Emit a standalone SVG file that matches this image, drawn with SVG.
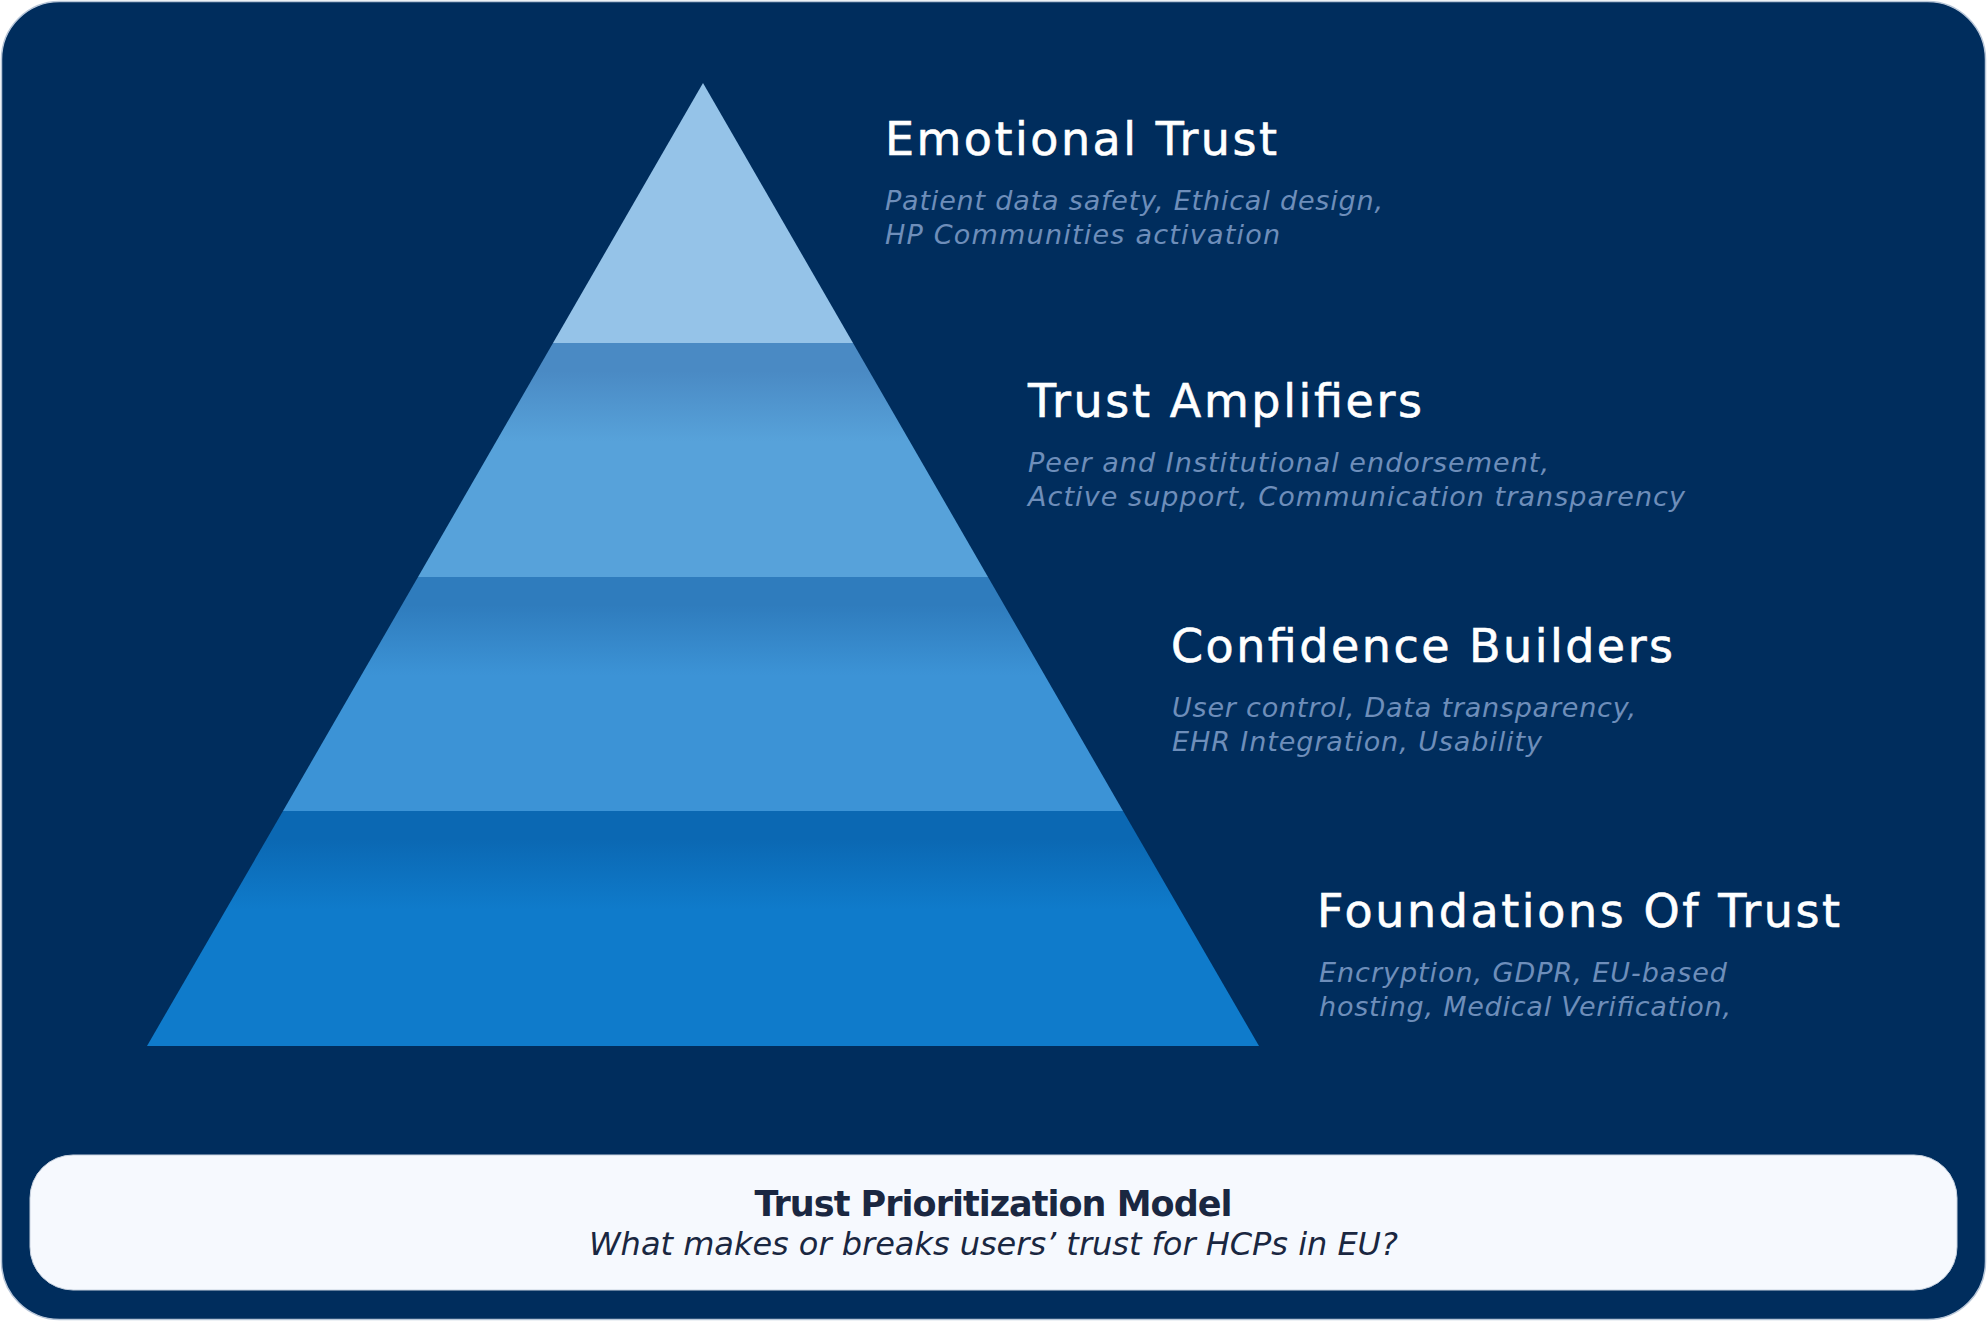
<svg xmlns="http://www.w3.org/2000/svg" width="1987" height="1321" viewBox="0 0 1987 1321">
  <defs>
    <linearGradient id="g2" x1="0" y1="0" x2="0" y2="1">
      <stop offset="0" stop-color="#4A8AC4"/>
      <stop offset="0.12" stop-color="#4A8AC4"/>
      <stop offset="0.42" stop-color="#57A2DA"/>
      <stop offset="1" stop-color="#57A2DA"/>
    </linearGradient>
    <linearGradient id="g3" x1="0" y1="0" x2="0" y2="1">
      <stop offset="0" stop-color="#2F7CBD"/>
      <stop offset="0.12" stop-color="#2F7CBD"/>
      <stop offset="0.42" stop-color="#3C93D6"/>
      <stop offset="1" stop-color="#3C93D6"/>
    </linearGradient>
    <linearGradient id="g4" x1="0" y1="0" x2="0" y2="1">
      <stop offset="0" stop-color="#0B68B3"/>
      <stop offset="0.12" stop-color="#0B68B3"/>
      <stop offset="0.42" stop-color="#0F7BCB"/>
      <stop offset="1" stop-color="#0F7BCB"/>
    </linearGradient>
  </defs>
  <style>
    .title { font-family: "DejaVu Sans", "Liberation Sans", sans-serif; font-size: 46px; fill: #FFFFFF; stroke: #FFFFFF; stroke-width: 0.6px; }
    .sub { font-family: "DejaVu Sans", "Liberation Sans", sans-serif; font-size: 27px; font-style: italic; fill: #6E8EBA; }
    .mtitle { font-family: "DejaVu Sans", "Liberation Sans", sans-serif; font-size: 35px; font-weight: bold; fill: #1A2741; }
    .msub { font-family: "DejaVu Sans", "Liberation Sans", sans-serif; font-size: 32px; font-style: italic; font-weight: 300; fill: #1A2741; }
  </style>
  <rect x="0" y="0" width="1987" height="1321" fill="#FFFFFF"/>
  <rect id="frame" x="1.5" y="1.5" width="1984" height="1318" rx="58" ry="58" fill="#002D5D" stroke="#B8C6D8" stroke-width="1.5"/>

  <g id="layer-emotional">
    <polygon points="703,83 853,343 553,343" fill="#95C3E8"/>
    <text class="title" x="885" y="155" textLength="392">Emotional Trust</text>
    <text class="sub" x="885" y="210" textLength="498">Patient data safety, Ethical design,</text>
    <text class="sub" x="885" y="244" textLength="395">HP Communities activation</text>
  </g>

  <g id="layer-amplifiers">
    <polygon points="553,343 853,343 988,577 418,577" fill="url(#g2)"/>
    <text class="title" x="1028" y="417" textLength="394">Trust Amplifiers</text>
    <text class="sub" x="1028" y="472" textLength="521">Peer and Institutional endorsement,</text>
    <text class="sub" x="1028" y="506" textLength="657">Active support, Communication transparency</text>
  </g>

  <g id="layer-confidence">
    <polygon points="418,577 988,577 1123,811 283,811" fill="url(#g3)"/>
    <text class="title" x="1171" y="662" textLength="502">Confidence Builders</text>
    <text class="sub" x="1172" y="717" textLength="464">User control, Data transparency,</text>
    <text class="sub" x="1172" y="751" textLength="370">EHR Integration, Usability</text>
  </g>

  <g id="layer-foundations">
    <polygon points="283,811 1123,811 1259,1046 147,1046" fill="url(#g4)"/>
    <text class="title" x="1317" y="927" textLength="523">Foundations Of Trust</text>
    <text class="sub" x="1319" y="982" textLength="408">Encryption, GDPR, EU-based</text>
    <text class="sub" x="1319" y="1016" textLength="412">hosting, Medical Verification,</text>
  </g>

  <g id="model-box">
    <rect x="30" y="1155" width="1927" height="135" rx="43" ry="43" fill="#F6F9FE" stroke="#C9D3E0" stroke-width="1"/>
    <text class="mtitle" x="993.5" y="1216" text-anchor="middle" textLength="478">Trust Prioritization Model</text>
    <text class="msub" x="993.5" y="1255" text-anchor="middle" textLength="809">What makes or breaks users’ trust for HCPs in EU?</text>
  </g>
</svg>
